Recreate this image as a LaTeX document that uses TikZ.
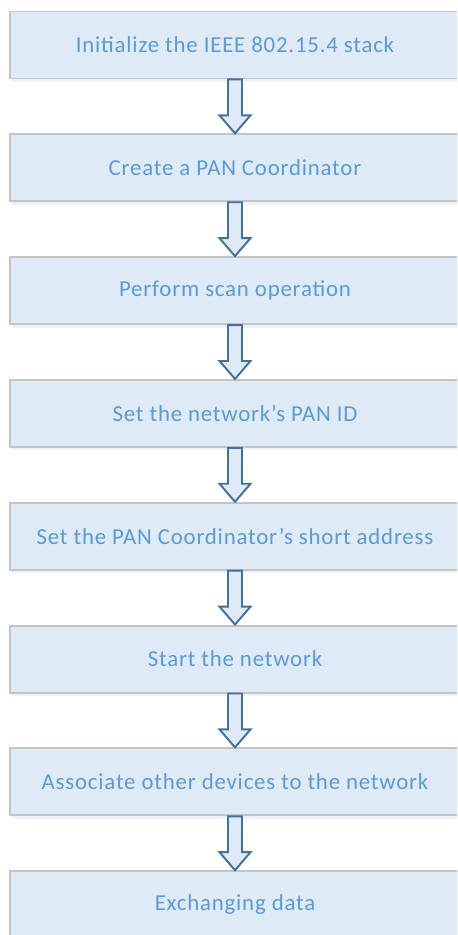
\documentclass[tikz,border=0pt]{standalone}
\usepackage{fontspec}
\setmainfont{Carlito}[LetterSpace=3.5]
\usetikzlibrary{positioning,calc,shadows}
\definecolor{AzulPalido}{RGB}{222,234,246}
\definecolor{AzulTexto}{RGB}{91,155,213}
\definecolor{AzulBorde}{RGB}{65,113,156}
\definecolor{GrisBorde}{RGB}{196,196,196}

% flecha hueca de una caja a la siguiente
\newcommand{\flecha}[2]{%
  \draw[flechahueca] ($(#1.south)+(-7,0)$) -- ($(#2.north)+(-7,18)$)
    -- ($(#2.north)+(-15.5,18)$) -- (#2.north) -- ($(#2.north)+(15.5,18)$)
    -- ($(#2.north)+(7,18)$) -- ($(#1.south)+(7,0)$) -- cycle;}

\begin{document}
\begin{tikzpicture}[x=0.02cm, y=0.02cm, font=\fontsize{13}{15}\selectfont,
    node distance=1.078cm,
    paso/.style={draw=GrisBorde, line width=1.1pt, fill=AzulPalido, text=AzulTexto,
      minimum width=9.0cm, minimum height=1.34cm, inner sep=0pt,
      drop shadow={opacity=0.12, fill=AzulTexto, shadow xshift=1pt, shadow yshift=-2pt}},
    flechahueca/.style={draw=AzulBorde, line width=1.1pt, fill=AzulPalido, line join=miter}]
  \useasboundingbox (0,0) rectangle (457,-935);
  \clip (0,0) rectangle (457,-935);
  \fill[white] (0,0) rectangle (457,-935);

  \node[paso] (pila) at (235,-45) {Initialize the IEEE 802.15.4 stack};
  \node[paso, below=of pila] (coord) {Create a PAN Coordinator};
  \node[paso, below=of coord] (escaneo) {Perform scan operation};
  \node[paso, below=of escaneo] (panid) {Set the network’s PAN ID};
  \node[paso, below=of panid] (direccion) {Set the PAN Coordinator’s short address};
  \node[paso, below=of direccion] (arranque) {Start the network};
  \node[paso, below=of arranque] (asociar) {Associate other devices to the network};
  \node[paso, below=of asociar] (datos) {Exchanging data};

  \flecha{pila}{coord}
  \flecha{coord}{escaneo}
  \flecha{escaneo}{panid}
  \flecha{panid}{direccion}
  \flecha{direccion}{arranque}
  \flecha{arranque}{asociar}
  \flecha{asociar}{datos}
\end{tikzpicture}
\end{document}
